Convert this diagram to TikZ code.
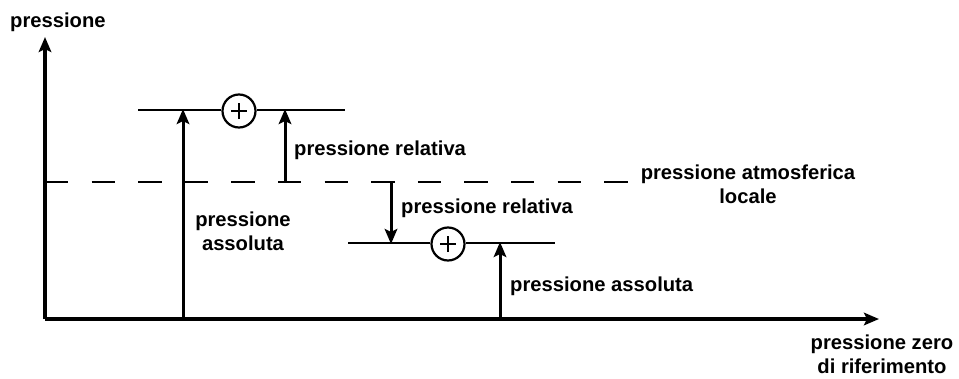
\documentclass[tikz,border=0pt]{standalone}
\usepackage{fontspec}
\setmainfont{Liberation Sans}
\usetikzlibrary{arrows.meta}
\begin{document}
\begin{tikzpicture}[x=1pt,y=-1pt,
  lbl/.style={font=\fontsize{20.2}{23.5}\selectfont\bfseries, inner sep=0pt},
  axis/.style={line width=3.3pt, -{Stealth[length=15pt,width=12.5pt,inset=3pt]}},
  arr/.style={line width=3pt, -{Stealth[length=15pt,width=12.5pt,inset=3pt]}},
  level/.style={line width=2pt},
  atm/.style={line width=2pt, dash pattern=on 23.3pt off 23.3pt},
  pluscirc/.style={circle, draw, line width=2.2pt, minimum size=33pt, inner sep=0pt,
    path picture={
      \draw[line width=1.8pt] ([xshift=-8pt]path picture bounding box.center) -- ([xshift=8pt]path picture bounding box.center);
      \draw[line width=1.8pt] ([yshift=-8pt]path picture bounding box.center) -- ([yshift=8pt]path picture bounding box.center);}}
]
\useasboundingbox (0,0) rectangle (959,378);

% axes
\coordinate (O) at (45,319);
\coordinate (ytop) at (45,37);
\coordinate (xend) at (879,319);
\draw[axis] (O) -- (ytop);
\draw[axis] (O) -- (xend);
\node[lbl, anchor=base west] (ylab) at (10,27) {pressione};
\node[lbl, anchor=base, align=center] (xlab) at (882,373) {pressione zero\\di riferimento};

% local atmospheric pressure
\coordinate (atmL) at (45,182);
\coordinate (atmR) at (629,182);
\draw[atm] (atmL) -- (atmR);
\node[lbl, anchor=base, align=center] (atmlab) at (748,203) {pressione atmosferica\\locale};

% upper level (above atmospheric)
\node[pluscirc] (p1) at (239,111) {};
\coordinate (u1) at (138,110);
\coordinate (u2) at (345,110);
\draw[level] (u1) -- (p1.west |- u1);
\draw[level] (p1.east |- u2) -- (u2);
\coordinate (abs1b) at (183,319);
\coordinate (abs1t) at (183,109);
\draw[arr] (abs1b) -- (abs1t);
\coordinate (rel1b) at (285,182);
\coordinate (rel1t) at (285,109);
\draw[arr] (rel1b) -- (rel1t);
\node[lbl, anchor=base west] (rel1lab) at (294,155) {pressione relativa};
\node[lbl, anchor=base, align=center] (abs1lab) at (243,250) {pressione\\assoluta};

% lower level (below atmospheric)
\node[pluscirc] (p2) at (448,244) {};
\coordinate (l1) at (348,243);
\coordinate (l2) at (555,243);
\draw[level] (l1) -- (p2.west |- l1);
\draw[level] (p2.east |- l2) -- (l2);
\coordinate (rel2t) at (391,182);
\coordinate (rel2b) at (391,244);
\draw[arr] (rel2t) -- (rel2b);
\coordinate (abs2b) at (500,319);
\coordinate (abs2t) at (500,242);
\draw[arr] (abs2b) -- (abs2t);
\node[lbl, anchor=base west] (rel2lab) at (401,213) {pressione relativa};
\node[lbl, anchor=base west] (abs2lab) at (510,291) {pressione assoluta};
\end{tikzpicture}
\end{document}
